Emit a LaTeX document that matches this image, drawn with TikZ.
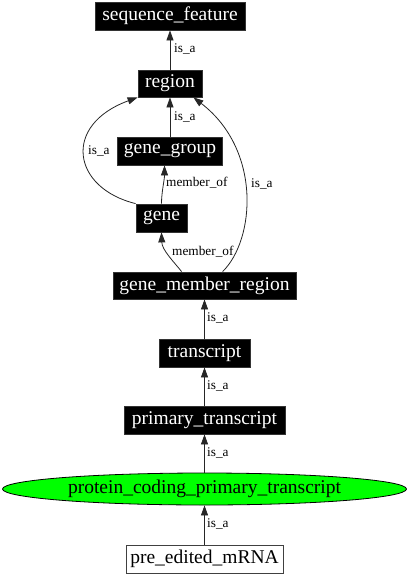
\documentclass[tikz,border=0pt]{standalone}
\usepackage{fontspec}
\setmainfont{Liberation Serif}
\usetikzlibrary{arrows.meta,shapes.geometric}
\begin{document}
\begin{tikzpicture}[x=1pt,y=-1pt,
  blk/.style={fill=black,draw=black!80,line width=0.8pt,text=white,inner sep=0pt,font=\fontsize{19.5}{24}\selectfont},
  wht/.style={fill=white,draw=black!75,line width=0.8pt,inner sep=0pt,font=\fontsize{19.5}{24}\selectfont},
  grn/.style={ellipse,fill={rgb,255:red,0;green,255;blue,0},draw=black,line width=0.8pt,inner sep=0pt,font=\fontsize{19.5}{24}\selectfont},
  lbl/.style={font=\fontsize{13.3}{16}\selectfont,anchor=west,inner sep=0pt},
  edge/.style={draw=black!85,line width=0.8pt,-{Triangle[length=10pt,width=7pt]}}]
\useasboundingbox (0,0) rectangle (409,576);
\node[blk,minimum width=150pt,minimum height=28pt] (sf) at (170,16) {sequence\_feature};
\node[blk,minimum width=64pt,minimum height=27pt] (rg) at (170,83.5) {region};
\node[blk,minimum width=105pt,minimum height=28pt] (gg) at (170,151) {gene\_group};
\node[blk,minimum width=51pt,minimum height=28pt] (gn) at (161.5,218) {gene};
\node[blk,minimum width=183pt,minimum height=27pt] (gm) at (204.5,285.5) {gene\_member\_region};
\node[blk,minimum width=91pt,minimum height=28pt] (tr) at (204.5,353) {transcript};
\node[blk,minimum width=161pt,minimum height=28pt] (pt) at (204.5,420) {primary\_transcript};
\node[grn,minimum width=404pt,minimum height=32pt] (pc) at (204.5,489) {protein\_coding\_primary\_transcript};
\node[wht,minimum width=157pt,minimum height=28pt] (pe) at (204.5,559) {pre\_edited\_mRNA};

\draw[edge] (rg.north) -- (sf.south);
\draw[edge] (gg.north) -- (rg.south);
\draw[edge] (gn.north west) .. controls (72,188) and (62,125) .. (rg.south west);
\draw[edge] (gn.north) .. controls (161.5,192) and (164.5,180) .. ([xshift=-5.5pt]gg.south);
\draw[edge] ([xshift=69pt]gm.north west) .. controls (174,262) and (162,250) .. (gn.south);
\draw[edge] ([xshift=110pt]gm.north west) .. controls (255,240) and (262,150) .. ([xshift=-9pt]rg.south east);
\draw[edge] (tr.north) -- (gm.south);
\draw[edge] (pt.north) -- (tr.south);
\draw[edge] (pc.north) -- (pt.south);
\draw[edge] (pe.north) -- (pc.south);

\node[lbl] (l1) at (174,49) {is\_a};
\node[lbl] (l2) at (174,117) {is\_a};
\node[lbl] (l3) at (88,151) {is\_a};
\node[lbl] (l4) at (166,183) {member\_of};
\node[lbl] (l5) at (172,252) {member\_of};
\node[lbl] (l6) at (251,184) {is\_a};
\node[lbl] (l7) at (207,318) {is\_a};
\node[lbl] (l8) at (207,386) {is\_a};
\node[lbl] (l9) at (207,453) {is\_a};
\node[lbl] (l10) at (207,524) {is\_a};
\end{tikzpicture}
\end{document}
